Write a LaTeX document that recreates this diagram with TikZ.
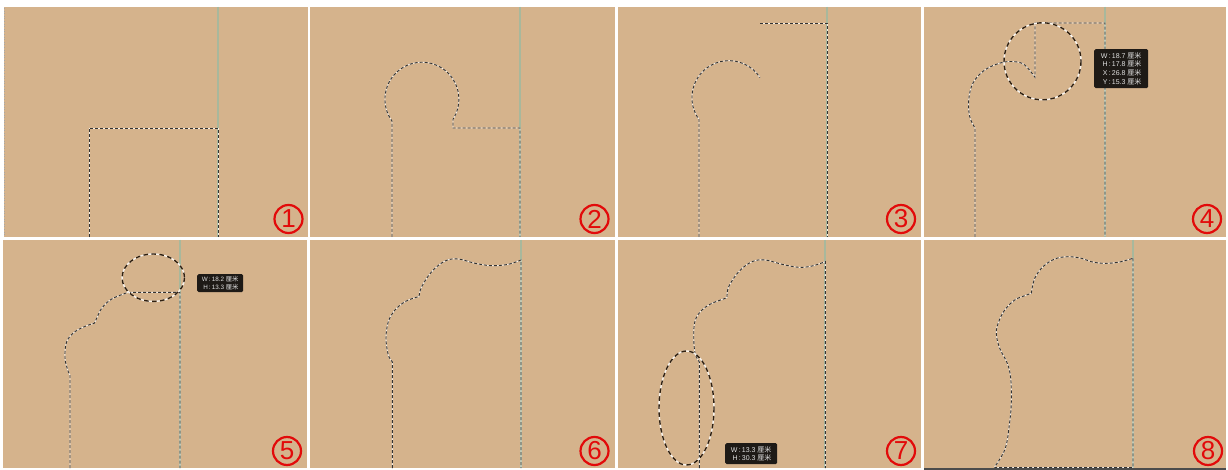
\documentclass[tikz,border=0pt]{standalone}
\usepackage{fontspec}
\setmainfont{Liberation Sans}
\newfontfamily\cjk{Noto Sans CJK SC}
\definecolor{paneltan}{RGB}{213,179,140}
\definecolor{guidegreen}{RGB}{168,184,156}
\definecolor{numred}{RGB}{226,10,10}
\definecolor{tipbg}{RGB}{30,26,22}
\begin{document}
\begin{tikzpicture}[x=1pt,y=-1pt,
  panel/.style={fill=paneltan},
  guide/.style={draw=guidegreen,line width=1.6pt},
  ants/.style={draw=black!80,line width=0.9pt,dash pattern=on 3pt off 2pt,
    preaction={draw=white!80!paneltan,line width=0.9pt}},
  bigants/.style={draw=black!75!brown,line width=1.4pt,dash pattern=on 4.5pt off 3.5pt,
    preaction={draw=white!85!paneltan,line width=1.4pt}},
  num/.style={circle,draw=numred,line width=2.2pt,minimum size=28pt,inner sep=0pt,
    text=numred,font=\fontsize{26}{26}\selectfont},
  tip/.style={fill=tipbg,rounded corners=1.5pt,inner sep=0pt,text=white!88!black,
    align=right},
]
\useasboundingbox (0,0) rectangle (1228,470);
\fill[white] (0,0) rectangle (1228,470);
% panels
\fill[panel] (4,7) rectangle (308,237);
\fill[panel] (310,7) rectangle (615,237);
\fill[panel] (618,7) rectangle (921,237);
\fill[panel] (924,7) rectangle (1226,237);
\fill[panel] (3,240) rectangle (307,468);
\fill[panel] (310,240) rectangle (615,468);
\fill[panel] (618,240) rectangle (921,468);
\fill[panel] (924,240) rectangle (1226,468);
\draw[black!70,line width=2pt] (924,469) -- (1226,469);
\draw[black!35,line width=0.6pt,dotted] (4.5,8) -- (4.5,236);
% guides
\draw[guide] (218,7) -- (218,237);
\draw[guide] (520,7) -- (520,237);
\draw[guide] (827,7) -- (827,237);
\draw[guide] (1105,7) -- (1105,237);
\draw[guide] (180,240) -- (180,468);
\draw[guide] (521,240) -- (521,468);
\draw[guide] (825,240) -- (825,468);
\draw[guide] (1133,240) -- (1133,468);
% panel 1
\draw[ants] (89,237) -- (89,128) -- (218,128) -- (218,237);
% panel 2
\draw[ants] (392,237) -- (392,121) arc[start angle=144,end angle=393,radius=37]
  -- (453,128) -- (520,128) -- (520,237);
% panel 3
\draw[ants] (699,237) -- (699,119.4) arc[start angle=144,end angle=327,radius=37];
\draw[ants] (760,23) -- (827,23) -- (827,237);
% panel 4
\draw[ants] (975,237) -- plot[smooth,tension=0.6] coordinates {(975,128) (969.7,116.7) (968.7,100)
  (973,83) (984.7,70) (1001.3,62.7) (1014.7,61.7) (1024.7,65) (1035,77.3)}
  -- (1035,23) -- (1105,23) -- (1105,237);
\draw[bigants] (1042.5,61.3) circle[radius=38.5];
\node[tip,minimum width=54pt,minimum height=39pt,anchor=north west,
  font=\fontsize{7}{8.8}\selectfont] (tip4) at (1094,49)
  {W\,:\,18.7 {\cjk 厘米}\\H\,:\,17.8 {\cjk 厘米}\\X\,:\,26.8 {\cjk 厘米}\\Y\,:\,15.3 {\cjk 厘米}};
% panel 5
\draw[ants] (70,468) -- plot[smooth,tension=0.6] coordinates {(70,375) (68.3,371.7) (65,358.3)
  (66.7,341.7) (75,331.7) (86.7,325.7) (94.3,323.3)}
  -- plot[smooth,tension=0.6] coordinates {(94.3,323.3) (96.7,318.3) (101.7,308.3) (111.7,299) (128.3,292.3)}
  -- (180,292.3) -- (180,468);
\draw[bigants] (153.3,277.7) ellipse[x radius=31.2,y radius=23.7];
\node[tip,minimum width=46pt,minimum height=18pt,anchor=north west,
  font=\fontsize{6.3}{7.4}\selectfont] (tip5) at (197,274)
  {W\,:\,18.2 {\cjk 厘米}\\H\,:\,13.3 {\cjk 厘米}};
% panel 6
\draw[ants] (392.3,468) -- (392.3,361.7) -- plot[smooth,tension=0.6] coordinates {(392.3,361.7) (388.3,355)
  (386,338.3) (388.3,321.7) (395,310) (405,301.7) (415,297.7) (419,296.7)}
  -- plot[smooth,tension=0.6] coordinates {(419,296.7) (421.7,286.7) (431.7,271.7) (445,261)
  (458.3,259) (475,263.3) (491.7,265.7) (508.3,264.3) (521,260)}
  -- (521,468);
% panel 7
\draw[ants] (699.3,468) -- (699.3,362) -- plot[smooth,tension=0.6] coordinates {(699.3,362) (695,353)
  (693.7,335) (695.3,320) (702,310) (712,303.3) (725.3,298.3) (727,296.7)}
  -- plot[smooth,tension=0.6] coordinates {(727,296.7) (728.7,286.7) (738.7,271.7) (752,261.7)
  (765.3,260) (782,264.3) (798.7,267.3) (812,266) (825.3,261.7)}
  -- (825.3,468);
\draw[bigants] (686.5,408) ellipse[x radius=27.5,y radius=57];
\node[tip,minimum width=52pt,minimum height=21pt,anchor=north west,
  font=\fontsize{7}{8.4}\selectfont] (tip7) at (725,443)
  {W\,:\,13.3 {\cjk 厘米}\\H\,:\,30.3 {\cjk 厘米}};
% panel 8
\draw[ants] (1133,258.3) -- (1133,467.5) -- (994.7,467.5)
  -- plot[smooth,tension=0.6] coordinates {(994.7,466.7) (1005.3,448.3) (1009.7,421.7) (1011.3,401.7)
  (1010.7,378.3) (1007.3,363.3) (999.7,348.3) (996.3,333.3) (998.7,321.7) (1004.7,310)
  (1014.7,300) (1024.7,295.7) (1031.3,293.3)}
  -- plot[smooth,tension=0.6] coordinates {(1031.3,293.3) (1034.7,278.3) (1043,266.7) (1054.7,259)
  (1068,256.7) (1081.3,258.3) (1091.3,261.7) (1103,263.3) (1118,262.3) (1133,258.3)};
% numbers
\node[num] (n1) at (288.5,219) {1};
\node[num] (n2) at (594.5,219) {2};
\node[num] (n3) at (901,219) {3};
\node[num] (n4) at (1207,219) {4};
\node[num] (n5) at (287,451) {5};
\node[num] (n6) at (594.5,451) {6};
\node[num] (n7) at (901,451) {7};
\node[num] (n8) at (1208,451) {8};
\end{tikzpicture}
\end{document}
